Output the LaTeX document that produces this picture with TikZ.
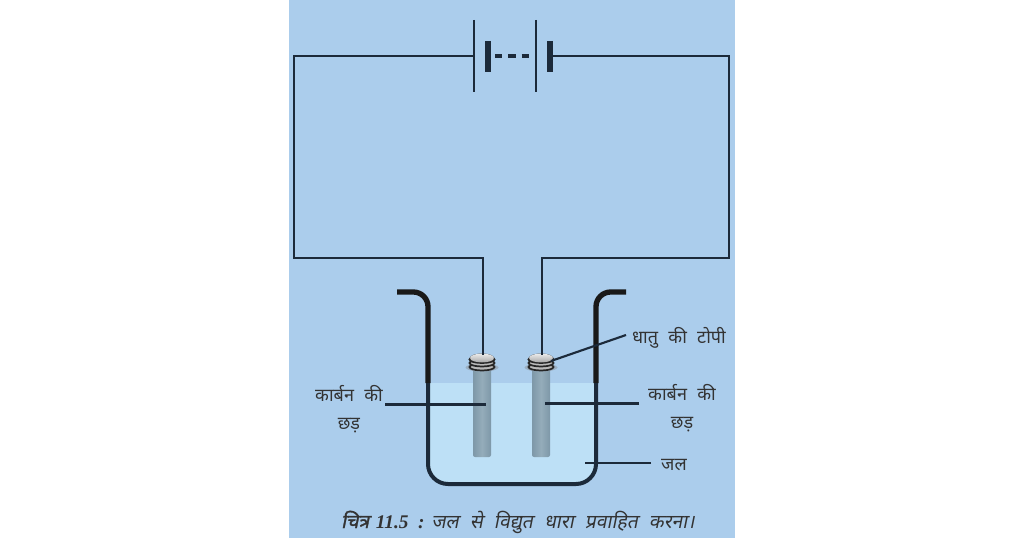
\documentclass[tikz,border=0pt]{standalone}
\usepackage{fontspec}
\setmainfont{Liberation Serif}
\newfontfamily\hindi[Script=Devanagari,WordSpace=2.2]{Noto Sans}
\newfontfamily\hindicap[Script=Devanagari,FakeSlant=0.2,WordSpace=2.2]{Noto Sans}
\newfontfamily\hindicapb[Script=Devanagari,FakeSlant=0.2,FakeBold=1.5]{Noto Sans}
\definecolor{panelblue}{HTML}{ABCDEC}
\definecolor{waterblue}{HTML}{BDE0F6}
\definecolor{wirecol}{HTML}{1C2A3A}
\definecolor{rodedge}{HTML}{7E98A8}
\definecolor{rodmid}{HTML}{94ACBA}
\begin{document}
\begin{tikzpicture}[
            x=0.75pt, y=-0.75pt,
            wire/.style={draw=wirecol, line width=2.2pt},
            plate/.style={draw=wirecol, line width=2.2pt},
            shortplate/.style={draw=wirecol, line width=3.8pt},
            leader/.style={draw=wirecol, line width=1.6pt},
            label/.style={font=\hindi\fontsize{13.5}{16}\selectfont, text=black!80, inner sep=0pt},
            ]
            \useasboundingbox (0,0) rectangle (1024,538);
            \fill[panelblue] (289,0) rectangle (735,538);
            % water
            \begin{scope}
              \clip (400,383) rectangle (620,500);
              \fill[waterblue, rounded corners=15pt] (428,340) rectangle (596,484);
            \end{scope}
            % beaker
            \draw[draw=black!90, line width=4pt, rounded corners=11pt, line cap=butt] (397,292) -- (428,292) -- (428,383);
            \draw[draw=black!90, line width=4pt, rounded corners=11pt, line cap=butt] (626,292) -- (596,292) -- (596,383);
            \draw[draw=wirecol, line width=3pt, rounded corners=15pt] (428,383) -- (428,484) -- (596,484) -- (596,383);
            % battery
            \coordinate (batl) at (474,56);
            \coordinate (batr) at (550,56);
            \coordinate (cornl) at (294,258);
            \coordinate (cornr) at (729,258);
            \draw[plate] (474,20) -- (474,92);
            \draw[shortplate] (488,41) -- (488,72);
            \draw[plate] (536,20) -- (536,92);
            \draw[shortplate] (550,41) -- (550,72);
            \draw[wirecol, line width=2.4pt, dash pattern=on 5.6pt off 4.4pt] (495,56) -- (529,56);
            % rods and caps
            \foreach \name/\cx in {rodl/482, rodr/541} {
              \shade[left color=rodedge, right color=rodedge, middle color=rodmid, rounded corners=1.5pt] (\cx-9,366) rectangle (\cx+9,457);
              \coordinate (\name) at (\cx,405);
              \coordinate (\name top) at (\cx+1,355);
              \fill[gray!40!panelblue] (\cx,367.5) ellipse (16.5 and 4);
              \foreach \yy in {367,363,359.5} {
                \draw[black!85, line width=1.3pt, fill=gray!55] (\cx,\yy) ellipse (12.5 and 3.5);
              }
              \fill[top color=white!85!gray, bottom color=gray!70] (\cx,358) ellipse (12 and 4.5);
            }
            \draw[wire] (batl) -| (cornl) -| (rodltop);
            \draw[wire] (batr) -| (cornr) -| (rodrtop);
            % labels
            \node[label] (capl) at (679,338) {धातु की टोपी};
            \node[label, align=center] (rodla) at (349,409) {कार्बन की\\[5pt]छड़};
            \node[label, align=center] (rodra) at (682,408) {कार्बन की\\[5pt]छड़};
            \node[label] (watl) at (674,465) {जल};
            \coordinate (rodlend) at (486,404.5);
            \coordinate (rodrend) at (545,403.5);
            \coordinate (watend) at (585,463);
            \coordinate (capend) at (551,361);
            \draw[leader] (385,404.5) -- (rodlend);
            \draw[leader] (639,403.5) -- (rodrend);
            \draw[leader] (651,463) -- (watend);
            \draw[leader] (626,335) -- (capend);
            \node[inner sep=0pt, text=black!80] (fig) at (518,522) {{\hindicapb\fontsize{14.5}{17}\selectfont चित्र}\ \ {\fontsize{14.5}{17}\selectfont\textbf{\textit{11.5\ \ :}}}\ \ {\hindicap\fontsize{14.5}{17}\selectfont जल से विद्युत धारा प्रवाहित करना।}};
            \end{tikzpicture}
\end{document}
